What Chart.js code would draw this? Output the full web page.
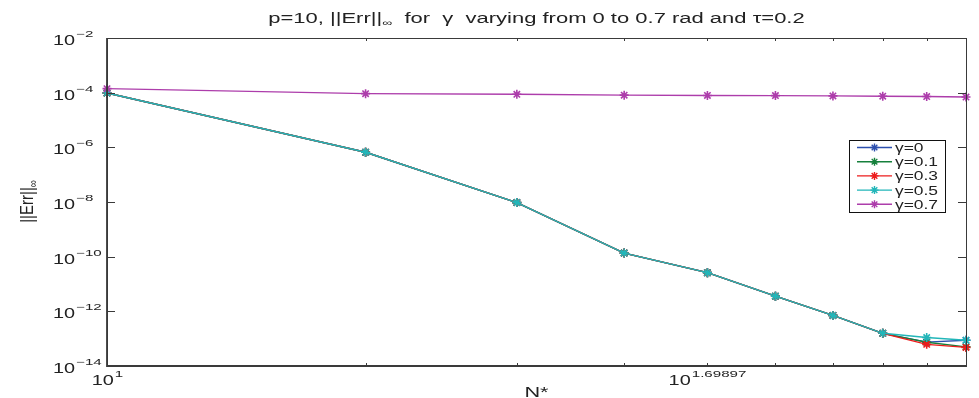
<!DOCTYPE html>
<html>
<head>
<meta charset="utf-8">
<script src="https://cdn.jsdelivr.net/npm/chart.js@4.4.1/dist/chart.umd.min.js"></script>
<style>
  html, body { margin: 0; padding: 0; background: #fff; }
  #wrap { width: 979px; height: 398px; position: relative; }
</style>
</head>
<body>
<div id="wrap"><canvas id="errChart"></canvas></div>
<script>
// values
var nValues = [10, 20, 30, 40, 50, 60, 70, 80, 90, 100];
var gammaLabels = ['γ=0', 'γ=0.1', 'γ=0.3', 'γ=0.5', 'γ=0.7'];
var errGamma0  = [9.7e-5, 6.6e-7, 9.5e-9, 1.35e-10, 2.6e-11, 3.6e-12, 7.1e-13, 1.57e-13, 7.5e-14, 8.7e-14];
var errGamma01 = [9.7e-5, 6.6e-7, 9.5e-9, 1.35e-10, 2.6e-11, 3.6e-12, 7.1e-13, 1.57e-13, 7.4e-14, 5.0e-14];
var errGamma03 = [9.7e-5, 6.6e-7, 9.5e-9, 1.35e-10, 2.6e-11, 3.6e-12, 7.1e-13, 1.57e-13, 6.2e-14, 4.8e-14];
var errGamma05 = [9.7e-5, 6.6e-7, 9.5e-9, 1.35e-10, 2.6e-11, 3.6e-12, 7.1e-13, 1.57e-13, 1.1e-13, 8.7e-14];
var errGamma07 = [1.4e-4, 9.2e-5, 8.7e-5, 8.1e-5, 7.9e-5, 7.8e-5, 7.6e-5, 7.4e-5, 7.2e-5, 6.9e-5];
var yTickExps = [-2, -4, -6, -8, -10, -12, -14];
var xTickValues = [10, 20, 30, 40, 50, 60, 70, 80, 90, 100];
var xTickLabels = { 10: '1', 50: '1.69897' };

var seriesColors = ['#2c4fae', '#16803c', '#ec1c1c', '#22b6b9', '#ad3dab'];
var FONT = '"Liberation Sans", Arial, Helvetica, sans-serif';

function toPoints(arr) {
  return nValues.map(function(n, i) { return { x: n, y: arr[i] }; });
}

var allSeries = [errGamma0, errGamma01, errGamma03, errGamma05, errGamma07];
var datasets = allSeries.map(function(arr, i) {
  return {
    label: gammaLabels[i],
    data: toPoints(arr),
    borderColor: seriesColors[i],
    backgroundColor: seriesColors[i],
    borderWidth: 1.4,
    pointStyle: 'star',
    pointRadius: 4.5,
    pointBorderWidth: 1.6,
    pointBorderColor: seriesColors[i],
    tension: 0,
    clip: false,
    order: allSeries.length - i   // later series on top, like matlab
  };
});

// the picture's text is stretched sideways, so draw it with a horizontal scale
function txt(ctx, s, x, y, size, sx, align) {
  ctx.save();
  ctx.font = size + 'px ' + FONT;
  var w = ctx.measureText(s).width * sx;
  var x0 = align === 'center' ? x - w / 2 : (align === 'right' ? x - w : x);
  ctx.translate(x0, y);
  ctx.scale(sx, 1);
  ctx.textAlign = 'left';
  ctx.fillText(s, 0, 0);
  ctx.restore();
  return w;
}
function txtWidth(ctx, s, size, sx) {
  ctx.font = size + 'px ' + FONT;
  return ctx.measureText(s).width * sx;
}

function power(ctx, exp, x, y, align) {
  var wb = txtWidth(ctx, '10', 14, 1.42);
  var we = txtWidth(ctx, exp, 9, 1.68);
  var x0 = align === 'center' ? x - (wb + we + 1) / 2 : x;
  txt(ctx, '10', x0, y, 14, 1.42, 'left');
  txt(ctx, exp, x0 + wb + 1, y - 8, 9, 1.68, 'left');
}

// matlab style box, inward ticks, labels, legend
var matlabAxes = {
  id: 'matlabAxes',
  afterDraw: function(chart) {
    var ctx = chart.ctx;
    var a = chart.chartArea;
    var xs = chart.scales.x, ys = chart.scales.y;
    ctx.save();
    ctx.fillStyle = '#222';
    ctx.strokeStyle = '#3a3a3a';
    ctx.textBaseline = 'alphabetic';

    // box
    ctx.lineWidth = 1;
    ctx.strokeRect(a.left + 0.5, a.top + 0.5, a.right - a.left, a.bottom - a.top);
    ctx.lineWidth = 1.8;
    ctx.beginPath();
    ctx.moveTo(a.left, a.top); ctx.lineTo(a.left, a.bottom); ctx.lineTo(a.right, a.bottom);
    ctx.stroke();

    // y ticks
    ctx.lineWidth = 1;
    yTickExps.forEach(function(e) {
      var py = Math.round(ys.getPixelForValue(Math.pow(10, e))) + 0.5;
      ctx.beginPath();
      ctx.moveTo(a.left, py); ctx.lineTo(a.left + 8, py);
      ctx.moveTo(a.right, py); ctx.lineTo(a.right - 8, py);
      ctx.stroke();
      power(ctx, '\u2212' + Math.abs(e), 53, py + 6, 'left');
    });

    // x ticks
    xTickValues.forEach(function(v) {
      var px = Math.round(xs.getPixelForValue(v)) + 0.5;
      ctx.beginPath();
      ctx.moveTo(px, a.bottom); ctx.lineTo(px, a.bottom - 3);
      ctx.moveTo(px, a.top); ctx.lineTo(px, a.top + 3);
      ctx.stroke();
      if (xTickLabels[v]) power(ctx, xTickLabels[v], px, 385, 'center');
    });

    // title
    var t1 = 'p=10, ||Err||', t2 = '\u221e', t3 = '  for  γ  varying from 0 to 0.7 rad and τ=0.2';
    var tsx = 1.57;
    var w1 = txtWidth(ctx, t1, 14, tsx), w2 = txtWidth(ctx, t2, 9, tsx), w3 = txtWidth(ctx, t3, 14, tsx);
    var tx = (a.left + a.right) / 2 - (w1 + w2 + w3) / 2;
    txt(ctx, t1, tx, 23, 14, tsx, 'left');
    txt(ctx, t2, tx + w1, 26, 9, tsx, 'left');
    txt(ctx, t3, tx + w1 + w2, 23, 14, tsx, 'left');

    // axis labels
    txt(ctx, 'N*', (a.left + a.right) / 2, 397, 14, 1.55, 'center');
    ctx.save();
    ctx.translate(33, (a.top + a.bottom) / 2);
    ctx.rotate(-Math.PI / 2);
    ctx.scale(1, 1.2);
    ctx.font = '15px ' + FONT;
    var wl = ctx.measureText('||Err||').width;
    ctx.textAlign = 'left';
    ctx.fillText('||Err||', -wl / 2 - 3, 0);
    ctx.font = '10px ' + FONT;
    ctx.fillText('\u221e', wl / 2 - 3, 3);
    ctx.restore();

    // legend
    var lx = 849, ly = 140, lw = 96, lh = 72;
    ctx.fillStyle = '#fff';
    ctx.fillRect(lx, ly, lw, lh);
    ctx.strokeStyle = '#111';
    ctx.lineWidth = 1;
    ctx.strokeRect(lx + 0.5, ly + 0.5, lw, lh);
    chart.data.datasets.forEach(function(ds, i) {
      var ry = ly + 7.5 + i * 14.2;
      ctx.strokeStyle = ds.borderColor;
      ctx.lineWidth = 1.4;
      ctx.beginPath();
      ctx.moveTo(857, ry); ctx.lineTo(892, ry);
      ctx.stroke();
      ctx.fillStyle = ds.borderColor;
      Chart.helpers.drawPoint(ctx, { pointStyle: 'star', radius: 4, borderWidth: 1.5 }, 874.5, ry);
      ctx.fillStyle = '#222';
      txt(ctx, ds.label, 895, ry + 4.5, 12, 1.45, 'left');
    });
    ctx.restore();
  }
};

var ctx = document.getElementById('errChart').getContext('2d');
var errChart = new Chart(ctx, {
  type: 'line',
  data: { datasets: datasets },
  options: {
    responsive: true,
    maintainAspectRatio: false,
    animation: false,
    layout: { padding: { left: 107, top: 38, right: 13, bottom: 32 } },
    plugins: {
      legend: { display: false },
      title: { display: false },
      tooltip: { enabled: false }
    },
    scales: {
      x: { type: 'logarithmic', min: 10, max: 100, display: false },
      y: { type: 'logarithmic', min: 1e-14, max: 1e-2, display: false }
    }
  },
  plugins: [matlabAxes]
});
</script>
</body>
</html>
